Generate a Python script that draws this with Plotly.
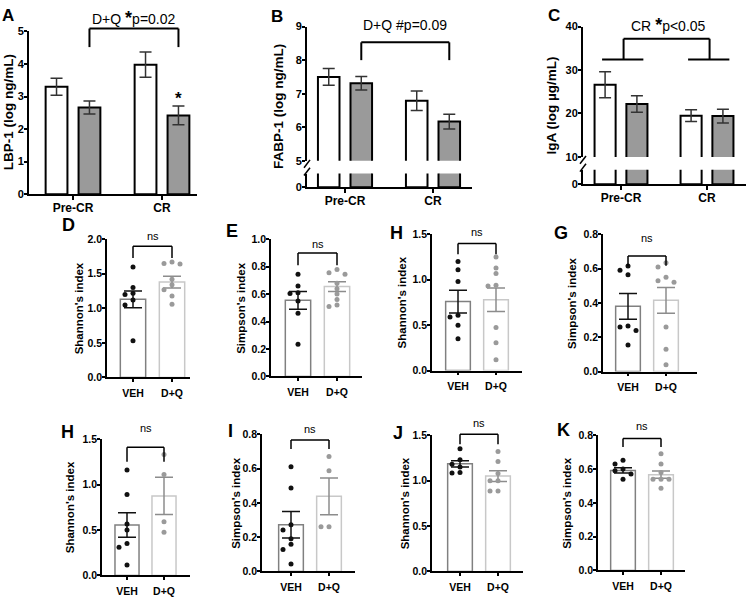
import numpy as np
import plotly.graph_objects as go

W, H = 746, 600
FONT = "Liberation Sans, Arial, sans-serif"

# ── Top row: plasma markers, mean ± SEM ─────────────────────────────
PERIODS = ["Pre-CR", "CR"]

LBP1_VEH = [3.30, 3.98]
LBP1_VEH_SEM = [0.26, 0.39]
LBP1_DQ = [2.66, 2.42]
LBP1_DQ_SEM = [0.20, 0.29]

FABP1_VEH = [7.50, 6.79]
FABP1_VEH_SEM = [0.25, 0.29]
FABP1_DQ = [7.31, 6.17]
FABP1_DQ_SEM = [0.20, 0.22]

IGA_VEH = [26.6, 19.5]
IGA_VEH_SEM = [3.0, 1.35]
IGA_DQ = [22.2, 19.4]
IGA_DQ_SEM = [1.9, 1.6]

# ── Alpha diversity: individual animals + mean ± SEM ────────────────
ARMS = ["VEH", "D+Q"]

D_VEH = [1.60, 1.30, 1.22, 1.20, 1.12, 1.05, 0.53]
D_DQ = [1.67, 1.65, 1.64, 1.42, 1.34, 1.27, 1.18, 1.06]
D_MEAN = [1.13, 1.38]
D_SEM = [0.12, 0.085]

E_VEH = [0.745, 0.66, 0.61, 0.605, 0.55, 0.46, 0.235]
E_DQ = [0.78, 0.755, 0.745, 0.68, 0.64, 0.60, 0.56, 0.52, 0.51]
E_MEAN = [0.555, 0.655]
E_SEM = [0.065, 0.035]

H1_VEH = [1.20, 1.11, 0.98, 0.61, 0.59, 0.50, 0.35]
H1_DQ = [1.25, 1.13, 1.07, 0.94, 0.93, 0.475, 0.305, 0.12]
H1_MEAN = [0.76, 0.78]
H1_SEM = [0.125, 0.13]

G_VEH = [0.615, 0.59, 0.565, 0.265, 0.26, 0.24, 0.155]
G_DQ = [0.635, 0.61, 0.55, 0.53, 0.52, 0.26, 0.13, 0.04]
G_MEAN = [0.38, 0.415]
G_SEM = [0.075, 0.075]

H2_VEH = [1.16, 0.89, 0.565, 0.50, 0.35, 0.31, 0.115]
H2_DQ = [1.33, 1.11, 0.59, 0.475]
H2_MEAN = [0.555, 0.875]
H2_SEM = [0.135, 0.205]

I_VEH = [0.61, 0.486, 0.272, 0.242, 0.19, 0.158, 0.128, 0.044]
I_DQ = [0.67, 0.587, 0.261, 0.261]
I_MEAN = [0.272, 0.438]
I_SEM = [0.077, 0.107]

J_VEH = [1.35, 1.23, 1.18, 1.15, 1.09, 1.085]
J_DQ = [1.32, 1.21, 1.08, 1.00, 1.00, 0.885, 0.885]
J_MEAN = [1.185, 1.05]
J_SEM = [0.035, 0.06]

K_VEH = [0.652, 0.63, 0.60, 0.59, 0.57, 0.54]
K_DQ = [0.69, 0.63, 0.58, 0.54, 0.54, 0.54, 0.486]
K_MEAN = [0.592, 0.567]
K_SEM = [0.016, 0.022]

# ── Styles ───────────────────────────────────────────────────────────
GREY = "#9a9a9a"
WHITE_SHIFT, GREY_SHIFT, GROUP_BAR_W = -0.185, 0.185, 0.245
SMALL_BAR_W = 0.65
VEH_EDGE, DQ_EDGE = "#808080", "#c8c8c8"
VEH_DOT, DQ_DOT = "#111111", "#9a9a9a"
VEH_ERR, DQ_ERR = "#111111", "#8c8c8c"

fig = go.Figure()
layout = dict(
    width=W, height=H, margin=dict(l=0, r=0, t=0, b=0),
    paper_bgcolor="white", plot_bgcolor="white",
    showlegend=False, barmode="overlay",
    font=dict(family=FONT, color="black"),
)
shapes, annos = [], []


def sfx(n):
    return "" if n == 1 else str(n)


def frac(v, yr):
    return (v - yr[0]) / (yr[1] - yr[0])


def axis_style(lw, tl):
    return dict(showline=True, linecolor="black", linewidth=lw,
                ticks="outside", ticklen=tl, tickwidth=lw, tickcolor="black",
                showgrid=False, zeroline=False, fixedrange=True)


def set_x(n, left, right, c0, c1, anchor_n, labels, lw, size, tl, standoff):
    s = c1 - c0
    layout["xaxis" + sfx(n)] = dict(
        domain=[left / W, min(right / W, 1)],
        range=[(left - c0) / s, (right - c0) / s],
        anchor="y" + sfx(anchor_n),
        tickvals=[0, 1], ticktext=labels,
        tickfont=dict(size=size, weight="bold"), ticklabelstandoff=standoff,
        **axis_style(lw, tl),
    )


def set_y(n, lo_px, hi_px, yr, tickvals, fmt, anchor_n, lw, size, tl):
    layout["yaxis" + sfx(n)] = dict(
        domain=[1 - lo_px / H, 1 - hi_px / H],
        range=yr, anchor="x" + sfx(anchor_n),
        tickvals=list(tickvals), tickformat=fmt,
        tickfont=dict(size=size, weight="bold"), ticklabelstandoff=-2,
        **axis_style(lw, tl),
    )


def seg(xref, yref, x0, y0, x1, y1, w):
    shapes.append(dict(type="line", xref=xref, yref=yref, x0=x0, y0=y0,
                       x1=x1, y1=y1, line=dict(color="black", width=w)))


def label(x, y, s, size, bold=False, xref="paper", yref="paper", **kw):
    kw.setdefault("xanchor", "center")
    kw.setdefault("yanchor", "middle")
    annos.append(dict(x=x, y=y, xref=xref, yref=yref, text=s, showarrow=False,
                      font=dict(size=size, weight="bold" if bold else "normal"), **kw))


def swarm(values, thr, step):
    """Spread points sideways when they would overlap at the same height."""
    placed, offs = [], []
    for v in values:
        o = 0.0
        for k in [0, -1, 1, -2, 2, -3, 3]:
            o = k * step
            if all(abs(v - pv) > thr or abs(o - po) > step * 0.9 for pv, po in placed):
                break
        placed.append((v, o))
        offs.append(o)
    return offs


# ── Top row ──────────────────────────────────────────────────────────
TOP = [
    dict(letter="A", title="LBP-1 (log ng/mL)", veh=LBP1_VEH, veh_sem=LBP1_VEH_SEM,
         dq=LBP1_DQ, dq_sem=LBP1_DQ_SEM, x_ax=1, y_ax=1, low_ax=None,
         box=(29, 197, 73, 162), zero=192, top=26, yr=[0, 5], yticks=range(0, 6),
         letter_at=(8, 10), title_x=8.5),
    dict(letter="B", title="FABP-1 (log ng/mL)", veh=FABP1_VEH, veh_sem=FABP1_VEH_SEM,
         dq=FABP1_DQ, dq_sem=FABP1_DQ_SEM, x_ax=2, y_ax=3, low_ax=2,
         box=(307, 472, 345, 433), zero=185, low_top=171, up_bot=158, top=21,
         yr=[5, 9], yticks=range(5, 10), letter_at=(277, 11), title_x=279),
    dict(letter="C", title="IgA (log µg/mL)", veh=IGA_VEH, veh_sem=IGA_VEH_SEM,
         dq=IGA_DQ, dq_sem=IGA_DQ_SEM, x_ax=3, y_ax=5, low_ax=4,
         box=(583, 746, 621, 707), zero=182, low_top=167, up_bot=154, top=21,
         yr=[10, 40], yticks=range(10, 41, 10), letter_at=(554, 10), title_x=551),
]

for p in TOP:
    left, right, c0, c1 = p["box"]
    base = p["low_ax"] or p["y_ax"]
    set_x(p["x_ax"], left, right, c0, c1, base, PERIODS, 2, 12, 4, -3)
    if p["low_ax"]:
        set_y(p["low_ax"], p["zero"], p["low_top"], [0, 1], [0], "d", p["x_ax"], 2, 11, 3)
        set_y(p["y_ax"], p["up_bot"], p["top"], p["yr"], p["yticks"], "d", p["x_ax"], 2, 11, 3)
        # axis break marks
        for cy in (p["up_bot"] + 3, p["low_top"] - 2):
            shapes.append(dict(type="line", xref="paper", yref="paper",
                               x0=(left - 3) / W, y0=1 - (cy + 4) / H,
                               x1=(left + 3) / W, y1=1 - (cy - 4) / H,
                               line=dict(color="black", width=1.5)))
    else:
        set_y(p["y_ax"], p["zero"], p["top"], p["yr"], p["yticks"], "d", p["x_ax"], 2, 11, 3)

    for yn in [a for a in (p["y_ax"], p["low_ax"]) if a]:
        main = yn == p["y_ax"]
        for vals, sem, shift, fill in [(p["veh"], p["veh_sem"], WHITE_SHIFT, "white"),
                                       (p["dq"], p["dq_sem"], GREY_SHIFT, GREY)]:
            fig.add_trace(go.Bar(
                x=[0, 1], y=vals, width=GROUP_BAR_W, offset=shift - GROUP_BAR_W / 2,
                xaxis="x" + sfx(p["x_ax"]), yaxis="y" + sfx(yn),
                marker=dict(color=fill, line=dict(color="black", width=2)),
                error_y=dict(type="data", array=sem, color="#333333",
                             thickness=1.5, width=6, visible=main),
            ))

    lx, ly = p["letter_at"]
    label(lx / W, 1 - ly / H, p["letter"], 17, bold=True)
    label(p["title_x"] / W, 1 - (p["zero"] + p["top"]) / 2 / H, p["title"], 13.5,
          bold=True, textangle=-90)

STAR = "<b><span style='font-size:18px'>*</span></b>"

# A: D+Q effect bracket over grey bars
xa, ya = "x", "y domain"
yr = TOP[0]["yr"]
seg(xa, ya, GREY_SHIFT, frac(5.09, yr), 1 + GREY_SHIFT, frac(5.09, yr), 2)
for xb in (GREY_SHIFT, 1 + GREY_SHIFT):
    seg(xa, ya, xb, frac(5.09, yr), xb, frac(4.52, yr), 2)
label(0.5 + GREY_SHIFT, frac(5.42, yr), f"D+Q {STAR}p=0.02", 14, xref=xa, yref=ya)
label(1 + GREY_SHIFT, LBP1_DQ[1] + LBP1_DQ_SEM[1], "<b>*</b>", 17,
      xref=xa, yref="y", yanchor="bottom", yshift=-4)

# B
xa, ya = "x2", "y3 domain"
yr = TOP[1]["yr"]
seg(xa, ya, GREY_SHIFT, frac(8.53, yr), 1 + GREY_SHIFT, frac(8.53, yr), 2)
for xb in (GREY_SHIFT, 1 + GREY_SHIFT):
    seg(xa, ya, xb, frac(8.53, yr), xb, frac(8.0, yr), 2)
label(0.5 + GREY_SHIFT, frac(9.05, yr), "D+Q #p=0.09", 14, xref=xa, yref=ya)

# C: CR main effect
xa, ya = "x3", "y5 domain"
yr = TOP[2]["yr"]
for g in (0, 1):
    seg(xa, ya, g - 0.22, frac(32.4, yr), g + 0.26, frac(32.4, yr), 2)
    seg(xa, ya, g + 0.03, frac(32.4, yr), g + 0.03, frac(37.2, yr), 2)
seg(xa, ya, 0.03, frac(37.2, yr), 1.03, frac(37.2, yr), 2)
label(0.55, frac(40.3, yr), f"CR {STAR}p<0.05", 14, xref=xa, yref=ya)

# ── Diversity panels ─────────────────────────────────────────────────
SH, SI = "Shannon's index", "Simpson's index"
SMALL = [
    dict(letter="D", title=SH, veh=D_VEH, dq=D_DQ, mean=D_MEAN, sem=D_SEM, ymax=2.0, dtick=0.5,
         box=(107, 190, 379, 238, 133, 172), letter_at=(68, 223), title_x=79, ns=(1.90, 1.73, 2.04)),
    dict(letter="E", title=SI, veh=E_VEH, dq=E_DQ, mean=E_MEAN, sem=E_SEM, ymax=1.0, dtick=0.2,
         box=(271, 362, 378, 238, 298, 337), letter_at=(232, 230), title_x=241, ns=(0.90, 0.81, 0.965)),
    dict(letter="H", title=SH, veh=H1_VEH, dq=H1_DQ, mean=H1_MEAN, sem=H1_SEM, ymax=1.5, dtick=0.5,
         box=(432, 522, 372, 233, 458, 496), letter_at=(396, 232), title_x=402, ns=(1.40, 1.28, 1.53)),
    dict(letter="G", title=SI, veh=G_VEH, dq=G_DQ, mean=G_MEAN, sem=G_SEM, ymax=0.8, dtick=0.2,
         box=(603, 697, 373, 233, 628, 666), letter_at=(561, 232), title_x=572, ns=(0.674, 0.617, 0.78)),
    dict(letter="H", title=SH, veh=H2_VEH, dq=H2_DQ, mean=H2_MEAN, sem=H2_SEM, ymax=1.5, dtick=0.5,
         box=(102, 190, 581, 442, 127, 164), letter_at=(67, 435), title_x=70, ns=(1.41, 1.25, 1.62)),
    dict(letter="I", title=SI, veh=I_VEH, dq=I_DQ, mean=I_MEAN, sem=I_SEM, ymax=0.8, dtick=0.2,
         box=(262, 355, 577, 437, 291, 329), letter_at=(230, 434), title_x=236, ns=(0.766, 0.714, 0.83)),
    dict(letter="J", title=SH, veh=J_VEH, dq=J_DQ, mean=J_MEAN, sem=J_SEM, ymax=1.5, dtick=0.5,
         box=(432, 523, 577, 438, 460, 498), letter_at=(398, 436), title_x=405, ns=(1.51, 1.40, 1.63)),
    dict(letter="K", title=SI, veh=K_VEH, dq=K_DQ, mean=K_MEAN, sem=K_SEM, ymax=0.8, dtick=0.2,
         box=(598, 685, 576, 438, 623, 661), letter_at=(563, 433), title_x=567, ns=(0.78, 0.73, 0.855)),
]

for i, p in enumerate(SMALL):
    xn, yn = 4 + i, 6 + i
    left, right, zero, top, c0, c1 = p["box"]
    yr = [0, p["ymax"]]
    set_x(xn, left, right, c0, c1, yn, ARMS, 1.5, 10.5, 3, 2)
    set_y(yn, zero, top, yr, np.arange(0, p["ymax"] + 1e-9, p["dtick"]), ".1f", xn, 1.5, 10.5, 3)
    xa, ya = "x" + sfx(xn), "y" + sfx(yn)

    thr = 5.5 * p["ymax"] / (zero - top)
    step = 8.0 / (c1 - c0)
    arms = [(p["veh"], VEH_EDGE, VEH_ERR, VEH_DOT), (p["dq"], DQ_EDGE, DQ_ERR, DQ_DOT)]
    for k, (pts, edge, err, dot) in enumerate(arms):
        fig.add_trace(go.Bar(
            x=[k], y=[p["mean"][k]], width=SMALL_BAR_W, xaxis=xa, yaxis=ya,
            marker=dict(color="white", line=dict(color=edge, width=1.5)),
            error_y=dict(type="data", array=[p["sem"][k]], color=err, thickness=1.5, width=9),
        ))
    for k, (pts, edge, err, dot) in enumerate(arms):
        offs = swarm(pts, thr, step)
        fig.add_trace(go.Scatter(
            x=[k + o for o in offs], y=pts, mode="markers", xaxis=xa, yaxis=ya,
            marker=dict(size=5, color=dot), cliponaxis=False,
        ))

    top_v, foot_v, ns_v = p["ns"]
    yd = ya + " domain"
    seg(xa, yd, 0, frac(top_v, yr), 1, frac(top_v, yr), 1.5)
    for xb in (0, 1):
        seg(xa, yd, xb, frac(top_v, yr), xb, frac(foot_v, yr), 1.5)
    label(0.5, frac(ns_v, yr), "ns", 11, xref=xa, yref=yd)

    lx, ly = p["letter_at"]
    label(lx / W, 1 - ly / H, p["letter"], 18, bold=True)
    label(p["title_x"] / W, 1 - (zero + top) / 2 / H, p["title"], 11.5, bold=True, textangle=-90)

layout["shapes"] = shapes
layout["annotations"] = annos
fig.update_layout(**layout)
fig.write_html("out.html", config={"displayModeBar": False},
               post_script="document.body.style.margin = '0';")
